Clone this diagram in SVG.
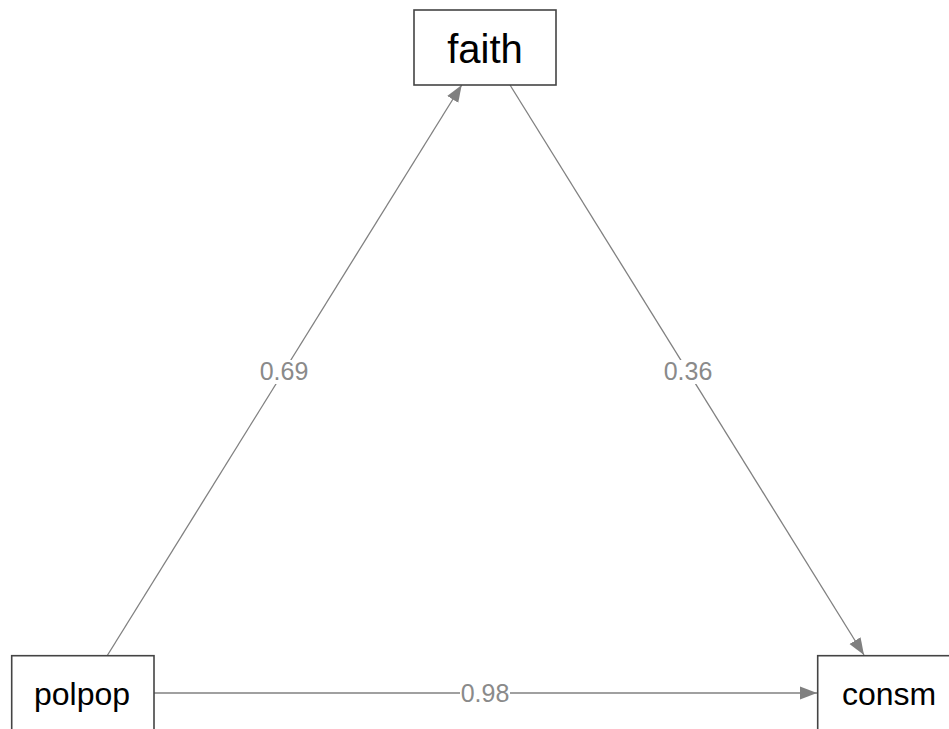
<svg xmlns="http://www.w3.org/2000/svg" width="949" height="729" viewBox="0 0 949 729">
<style>
.node rect{fill:#fff;stroke:#444;stroke-width:1.6}
.node text{font-family:"Liberation Sans",Arial,sans-serif;fill:#000;text-anchor:middle}
.edge line{stroke:#808080;stroke-width:1.3;marker-end:url(#ah)}
.lbl text{font-family:"Liberation Sans",Arial,sans-serif;font-size:25px;fill:#8a8a8a;text-anchor:middle}
.lbl rect{fill:#fff}
</style>
<defs>
<marker id="ah" markerUnits="userSpaceOnUse" markerWidth="18" markerHeight="14" viewBox="0 0 18 14" refX="17" refY="7" orient="auto">
<path d="M0,0.5 L17,7 L0,13.5 Z" fill="#808080"/>
</marker>
</defs>
<rect width="949" height="729" fill="#fff"/>
<g id="edges" class="edge">
<line x1="107" y1="656" x2="461.7" y2="85"/>
<line x1="510" y1="85" x2="864" y2="655"/>
<line x1="154" y1="693" x2="817" y2="693"/>
</g>
<g id="labels" class="lbl">
<rect x="259" y="360" width="50" height="24"/>
<text x="284" y="380">0.69</text>
<rect x="663" y="360" width="50" height="24"/>
<text x="688" y="380">0.36</text>
<rect x="460" y="682" width="50" height="24"/>
<text x="485" y="702">0.98</text>
</g>
<g id="faith" class="node">
<rect x="414" y="10" width="142" height="75"/>
<text x="485" y="63" font-size="40">faith</text>
</g>
<g id="polpop" class="node">
<rect x="11.7" y="655.7" width="142.3" height="90"/>
<text x="82" y="705" font-size="32">polpop</text>
</g>
<g id="consm" class="node">
<rect x="817.7" y="655.7" width="142" height="90"/>
<text x="889" y="705" font-size="32">consm</text>
</g>
</svg>
